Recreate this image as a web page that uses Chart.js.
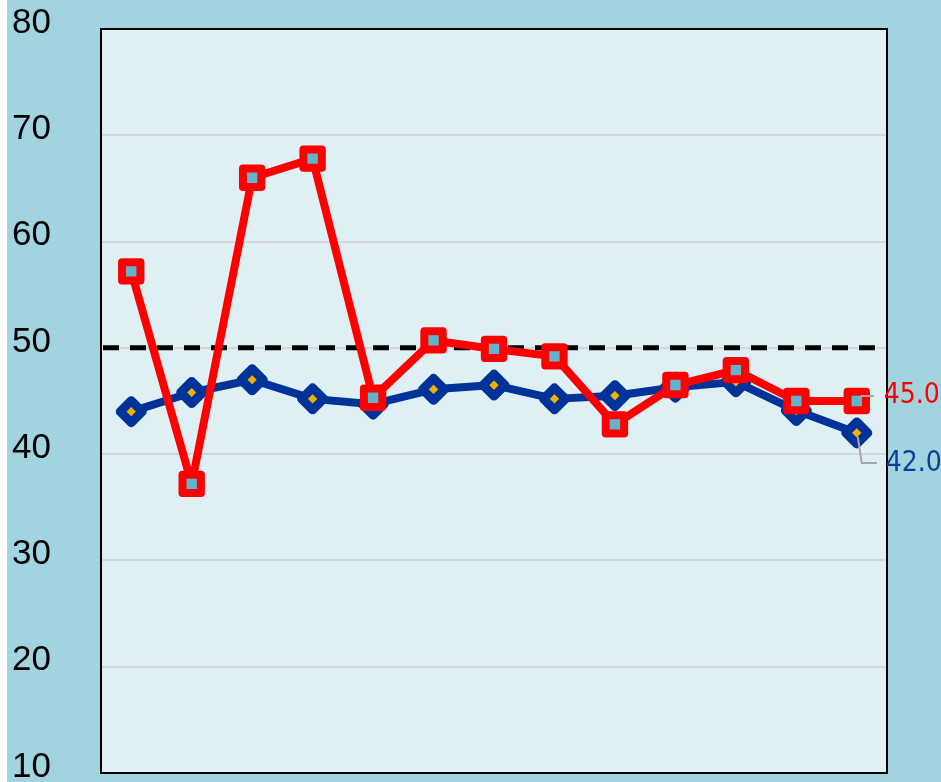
<!DOCTYPE html>
<html>
<head>
<meta charset="utf-8">
<script src="https://cdn.jsdelivr.net/npm/chart.js@4/dist/chart.umd.min.js"></script>
<style>
  html, body { margin: 0; padding: 0; background: #ffffff; }
  #caja { position: absolute; left: 7px; top: 0; width: 934px; height: 782px; background: #a2d4e0; }
</style>
</head>
<body>
<div id="caja"><canvas id="grafico"></canvas></div>
<script>
const categorias = ["1", "2", "3", "4", "5", "6", "7", "8", "9", "10", "11", "12", "13"];
const serieRoja = [57.2, 37.2, 66.0, 67.8, 45.3, 50.7, 49.9, 49.2, 42.8, 46.5, 47.9, 45.0, 45.0];
const serieAzul = [44.0, 45.8, 47.0, 45.2, 44.7, 46.1, 46.5, 45.2, 45.5, 46.3, 46.8, 44.1, 42.0];
const limite = 50;
const ticksY = [10, 20, 30, 40, 50, 60, 70, 80];

document.addEventListener("DOMContentLoaded", () => {
  const lienzo = document.querySelector("#grafico");

  const fondo = {
    id: 'fondo',
    beforeDraw(chart) {
      const { ctx, chartArea: a } = chart;
      ctx.save();
      ctx.fillStyle = '#dff0f4';
      ctx.fillRect(a.left, a.top, a.right - a.left, a.bottom - a.top);
      ctx.restore();
    },
    beforeDatasetsDraw(chart) {
      const { ctx, chartArea: a, scales } = chart;
      ctx.save();
      ctx.strokeStyle = '#000';
      ctx.lineWidth = 2;
      ctx.strokeRect(a.left, a.top, a.right - a.left, a.bottom - a.top);
      const y = scales.y.getPixelForValue(limite);
      ctx.setLineDash([16, 11]);
      ctx.lineWidth = 5;
      ctx.beginPath();
      ctx.moveTo(a.left + 2, y);
      ctx.lineTo(a.right - 2, y);
      ctx.stroke();
      ctx.restore();
      // esquinas redondeadas en los marcadores
      ctx.lineJoin = 'round';
    },
    afterDatasetsDraw(chart) {
      const { ctx } = chart;
      const n = categorias.length - 1;
      const pr = chart.getDatasetMeta(0).data[n];
      const pa = chart.getDatasetMeta(1).data[n];
      ctx.save();
      ctx.lineJoin = 'miter';
      ctx.strokeStyle = '#a6a6a6';
      ctx.lineWidth = 2;
      ctx.beginPath();
      ctx.moveTo(pr.x + 4, pr.y - 5);
      ctx.lineTo(pr.x + 17, pr.y - 5);
      ctx.moveTo(pa.x + 1, pa.y + 4);
      ctx.lineTo(pa.x + 5, pa.y + 30);
      ctx.lineTo(pa.x + 20, pa.y + 30);
      ctx.stroke();
      ctx.font = '28px "DejaVu Sans Condensed", "DejaVu Sans", sans-serif';
      if ('fontStretch' in ctx) ctx.fontStretch = 'condensed';
      ctx.textBaseline = 'middle';
      ctx.textAlign = 'left';
      ctx.fillStyle = '#ff0000';
      ctx.fillText(serieRoja[n].toFixed(1), pr.x + 27, pr.y - 5);
      ctx.fillStyle = '#0d3d96';
      ctx.fillText(serieAzul[n].toFixed(1), pa.x + 29, pa.y + 31);
      ctx.restore();
    }
  };

  new Chart(lienzo, {
    type: 'line',
    data: {
      labels: categorias,
      datasets: [
        {
          label: 'Rojo',
          data: serieRoja,
          borderColor: '#ff0000',
          borderWidth: 8,
          borderJoinStyle: 'round',
          pointStyle: 'rect',
          pointRadius: 13,
          pointHoverRadius: 13,
          pointBorderWidth: 8,
          pointBorderColor: '#ff0000',
          pointBackgroundColor: '#62b3cc',
          tension: 0,
          order: 0
        },
        {
          label: 'Azul',
          data: serieAzul,
          borderColor: '#003399',
          borderWidth: 8,
          borderJoinStyle: 'round',
          pointStyle: 'rectRot',
          pointRadius: 11,
          pointHoverRadius: 11,
          pointBorderWidth: 9,
          pointBorderColor: '#003399',
          pointBackgroundColor: '#f2b000',
          tension: 0,
          order: 1
        }
      ]
    },
    options: {
      responsive: true,
      maintainAspectRatio: false,
      animation: false,
      events: [],
      layout: { autoPadding: false, padding: { left: 5, right: 54, top: 29, bottom: 9 } },
      plugins: { legend: { display: false }, tooltip: { enabled: false } },
      scales: {
        x: { display: false, offset: true },
        y: {
          min: ticksY[0],
          max: ticksY[ticksY.length - 1],
          afterBuildTicks: s => { s.ticks = ticksY.map(v => ({ value: v })); },
          afterFit: s => { s.width = 89; s.paddingTop = 0; s.paddingBottom = 0; },
          border: { display: false },
          grid: { color: '#d4d6d8', lineWidth: 2, drawTicks: false },
          ticks: {
            color: '#000',
            crossAlign: 'far',
            labelOffset: -6,
            font: { family: '"Liberation Sans", Arial, sans-serif', size: 35, lineHeight: 0.4 }
          }
        }
      }
    },
    plugins: [fondo]
  });
});
</script>
</body>
</html>
